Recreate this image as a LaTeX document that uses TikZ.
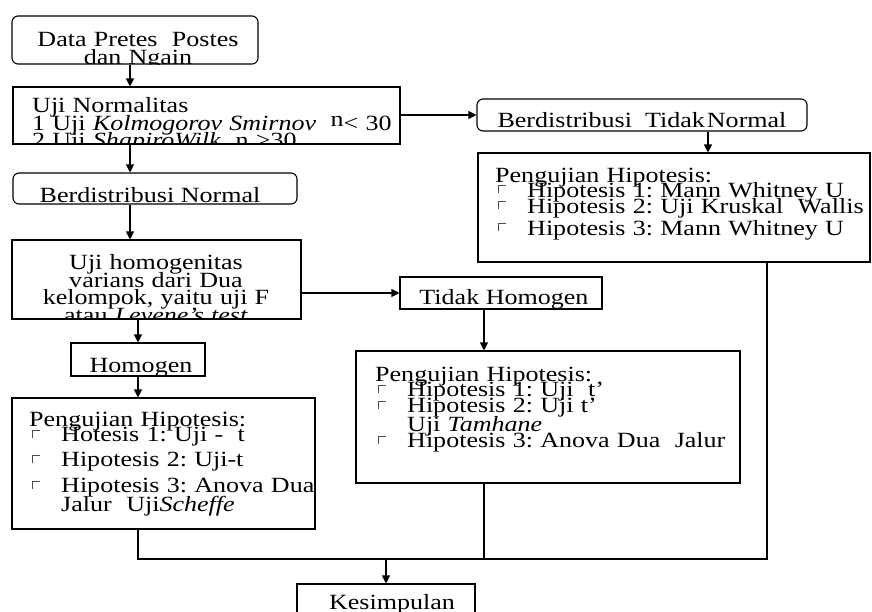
\documentclass[tikz,border=0pt]{standalone}
\usepackage{fontspec}
\setmainfont[FakeStretch=1.2]{Liberation Serif}
\usetikzlibrary{positioning,arrows.meta}
\newcommand{\flowfont}{\fontsize{21.7pt}{17.5pt}\selectfont\frenchspacing\lineskiplimit=-100pt\relax}
\newcommand{\crnr}{\makebox[0pt][l]{\color{black!70}\rule[4pt]{.6pt}{8pt}}{\color{black!70}\rule[11.4pt]{8pt}{.6pt}}}
\newcommand{\itm}{\hspace*{3pt}\makebox[29pt][l]{\crnr}}

\begin{document}
\begin{tikzpicture}[x=1pt,y=-1pt,font=\flowfont,box/.style={draw,line width=1.1pt,inner sep=0pt},rbox/.style={box,rounded corners=6pt},txt/.style={inner sep=0pt,anchor=base west,align=left,text width=520pt},ctxt/.style={inner sep=0pt,anchor=base,align=center},arrow/.style={-{Triangle[length=8pt,width=8pt]},line width=1.1pt},line/.style={line width=1.1pt}]
\useasboundingbox (0,0) rectangle (872,611);
\coordinate (c1) at (130,0);
\coordinate (c2) at (708,0);
\coordinate (c3) at (484,0);
\coordinate (c4) at (767,0);
\coordinate (bus) at (0,559);
% boxes
\node[rbox,minimum width=246pt,minimum height=48pt] (data) at (135,40) {};
\node[box,minimum width=387pt,minimum height=57pt] (norm) at (206.5,115.5) {};
\node[rbox,minimum width=330pt,minimum height=32pt] (tnorm) at (642,115) {};
\node[rbox,minimum width=284pt,minimum height=31pt] (bnorm) at (155,188.5) {};
\node[box,minimum width=392pt,minimum height=109pt] (tnh) at (674,207.5) {};
\node[box,minimum width=289pt,minimum height=79pt] (hom) at (156.5,279.5) {};
\node[box,minimum width=202pt,minimum height=32pt] (tidak) at (501,293) {};
\node[box,minimum width=134pt,minimum height=33pt] (homog) at (138,359.5) {};
\node[box,minimum width=303pt,minimum height=131pt] (left) at (163.5,463.5) {};
\node[box,minimum width=384pt,minimum height=132pt] (mid) at (548,417) {};
\node[box,minimum width=178pt,minimum height=41pt] (kes) at (386,604.5) {};
% texts (cut at the lower edge of their box)
\begin{scope}
\clip (data.north west) rectangle (data.south east);
\node[ctxt,text width=240pt] (dataT) at (138,46.5) {Data Pretes\ \ Postes\\dan Ngain};
\end{scope}
\begin{scope}
\clip (norm.north west) rectangle (norm.south east);
\node[txt] (normT) at (32,112.5) {Uji Normalitas\\1 Uji \textit{Kolmogorov Smirnov}\ \ \raisebox{4pt}{n}< 30\\2 Uji \textit{ShapiroWilk}\ \ n >30};
\end{scope}
\begin{scope}
\clip (tnorm.north west) rectangle (tnorm.south east);
\node[ctxt] (tnormT) at (642,127.5) {Berdistribusi\ \ Tidak\hspace{2pt}Normal};
\end{scope}
\begin{scope}
\clip (bnorm.north west) rectangle (bnorm.south east);
\node[ctxt] (bnormT) at (150,202.5) {Berdistribusi Normal};
\end{scope}
\begin{scope}
\clip (hom.north west) rectangle (hom.south east);
\node[ctxt,text width=285pt] (homT) at (156,269.5) {Uji homogenitas\\varians dari Dua\\kelompok, yaitu uji F\\atau \textit{Levene’s test}};
\end{scope}
\begin{scope}
\clip (tidak.north west) rectangle (tidak.south east);
\node[ctxt] (tidakT) at (504,304.5) {Tidak Homogen};
\end{scope}
\begin{scope}
\clip (homog.north west) rectangle (homog.south east);
\node[ctxt] (homogT) at (141,372.5) {Homogen};
\end{scope}
\node[txt] (tnhT) at (495,182.5) {Pengujian Hipotesis:\\[-3pt]\itm Hipotesis 1: Mann Whitney U\\[-1.5pt]\itm Hipotesis 2: Uji Kruskal\ \ Wallis\\[4.5pt]\itm Hipotesis 3: Mann Whitney U};
\node[txt] (leftT) at (29,426.5) {Pengujian Hipotesis:\\[-2.5pt]\itm Hotesis 1: Uji -\ \ t\\[7.5pt]\itm Hipotesis 2: Uji-t\\[8.5pt]\itm Hipotesis 3: Anova Dua\\[1.5pt]\hspace*{32pt}Jalur\ \ Uji\textit{Scheffe}};
\node[txt] (midT) at (375,381.5) {Pengujian Hipotesis:\\[-2.5pt]\itm Hipotesis 1: Uji\ \ t’\\[-1.5pt]\itm Hipotesis 2: Uji t’\\[1.5pt]\hspace*{32pt}Uji \textit{Tamhane}\\[-1.5pt]\itm Hipotesis 3: Anova Dua\ \ Jalur};
\node[ctxt] (kesT) at (392,609) {Kesimpulan};
% connectors
\draw[arrow] (data.south -| c1)--(norm.north -| c1);
\draw[arrow] (norm.south -| c1)--(bnorm.north -| c1);
\draw[arrow] (bnorm.south -| c1)--(hom.north -| c1);
\draw[arrow] (norm.east |- tnorm.west)--(tnorm.west);
\draw[arrow] (tnorm.south -| c2)--(tnh.north -| c2);
\draw[arrow] (hom.east |- tidak.west)--(tidak.west);
\draw[arrow] (hom.south -| homog.north)--(homog.north);
\draw[arrow] (homog.south)--(left.north -| homog.south);
\draw[arrow] (tidak.south -| c3)--(mid.north -| c3);
\draw[line] (left.south -| homog.south)|-(bus -| c4)--(tnh.south -| c4);
\draw[line] (mid.south -| c3)--(bus -| c3);
\draw[arrow] (bus -| kes.north)--(kes.north);
\end{tikzpicture}
\end{document}
